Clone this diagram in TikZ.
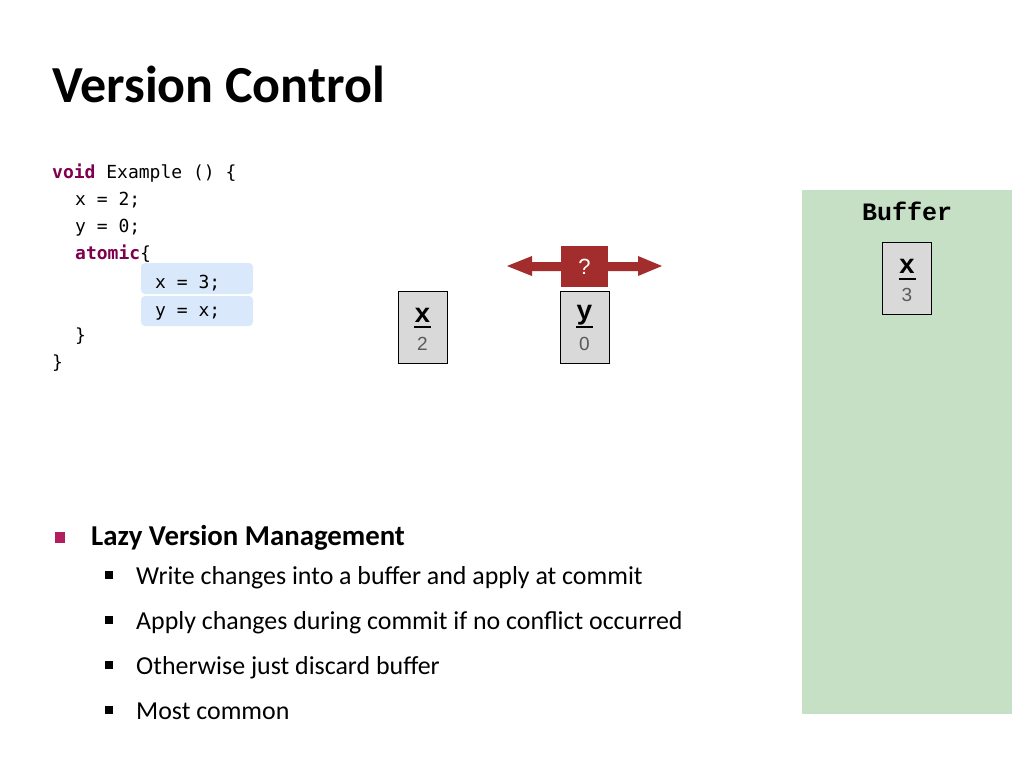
\documentclass[tikz,border=0pt]{standalone}
\usepackage{fontspec}
\setmainfont{Carlito}
\newfontfamily\codefont{DejaVu Sans Mono}
\newfontfamily\cellfont{Liberation Mono}
\newfontfamily\numfont{Liberation Sans}
\definecolor{kw}{RGB}{128,0,80}
\definecolor{hl}{RGB}{218,232,252}
\definecolor{cellgray}{RGB}{217,217,217}
\definecolor{numgray}{RGB}{89,89,89}
\definecolor{arrowred}{RGB}{163,45,45}
\definecolor{bufgreen}{RGB}{197,224,196}
\definecolor{bulletmag}{RGB}{176,32,96}
\tikzset{
  code/.style={anchor=base west, inner sep=0pt, font=\codefont\fontsize{18}{20}\selectfont},
  hlbox/.style={fill=hl, rounded corners=4pt, draw=none},
  cell/.style={draw=black, line width=0.8pt, fill=cellgray, minimum width=49pt, minimum height=72pt, inner sep=0pt},
  cellname/.style={inner sep=0pt, font=\cellfont\bfseries\fontsize{27}{27}\selectfont},
  cellval/.style={inner sep=0pt, text=numgray, font=\numfont\fontsize{19}{19}\selectfont},
  uline/.style={line width=2pt},
  lvl1/.style={anchor=base west, inner sep=0pt, font=\bfseries\fontsize{28.8}{30}\selectfont},
  lvl2/.style={anchor=base west, inner sep=0pt, font=\fontsize{25.9}{28}\selectfont},
}
\begin{document}
\begin{tikzpicture}[x=1pt,y=-1pt]
\useasboundingbox (0,0) rectangle (1024,768);
\fill[white] (0,0) rectangle (1024,768);
% title
\node[anchor=base west, inner sep=0pt, font=\bfseries\fontsize{52}{56}\selectfont] (title) at (52,102) {Version Control};
% code highlights
\fill[hlbox] (141,263) rectangle (253,294);
\fill[hlbox] (141,296) rectangle (253,326);
% code
\node[code] (c1) at (52,178) {\textcolor{kw}{\bfseries void} Example () \{};
\node[code] (c2) at (75,205) {x = 2;};
\node[code] (c3) at (75,232) {y = 0;};
\node[code] (c4) at (75,259) {\textcolor{kw}{\bfseries atomic}\{};
\node[code] (c5) at (155,288) {x = 3;};
\node[code] (c6) at (155,316) {y = x;};
\node[code] (c7) at (75,341) {\}};
\node[code] (c8) at (52,368) {\}};
% memory cells
\node[cell] (mx) at (422.5,327) {};
\node[cellname] (mxn) at (422.5,315) {x};
\draw[uline] (414,327) -- (431,327);
\node[cellval] (mxv) at (422.5,344) {2};
\node[cell] (my) at (584.5,327) {};
\node[cellname] (myn) at (584.5,315) {y};
\draw[uline] (576,327) -- (593,327);
\node[cellval] (myv) at (584.5,344) {0};
% conflict arrow
\fill[arrowred] (507,266) -- (532,256) -- (532,262) -- (638,262) -- (638,256) -- (662,266) -- (638,276) -- (638,271) -- (532,271) -- (532,276) -- cycle;
\node[fill=arrowred, minimum width=47pt, minimum height=41pt, inner sep=0pt, text=white, font=\numfont\fontsize{22}{22}\selectfont] (q) at (584.5,266.5) {?};
% buffer
\fill[bufgreen] (802,190) rectangle (1012,714);
\node[inner sep=0pt, font=\cellfont\bfseries\fontsize{25}{25}\selectfont] (buf) at (907,211) {Buffer};
\node[cell] (bx) at (907,278) {};
\node[cellname] (bxn) at (907,266) {x};
\draw[uline] (898.5,279) -- (915.5,279);
\node[cellval] (bxv) at (907,295) {3};
% bullets
\fill[bulletmag] (55,532) rectangle (65,543);
\node[lvl1] (b1) at (91,545) {Lazy Version Management};
\foreach \yy/\txt [count=\i] in {584/Write changes into a buffer and apply at commit, 629/Apply changes during commit if no conflict occurred, 674/Otherwise just discard buffer, 719/Most common}{
  \fill (105,\yy-13) rectangle (113,\yy-5);
  \node[lvl2] (s\i) at (136,\yy) {\txt};
}
\end{tikzpicture}
\end{document}
